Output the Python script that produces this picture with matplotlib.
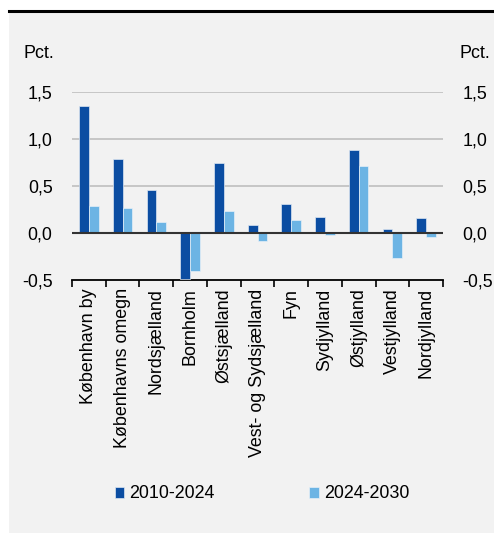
import numpy as np
import matplotlib
matplotlib.use("Agg")
import matplotlib.pyplot as plt

plt.rcParams['font.family'] = ['Liberation Sans', 'DejaVu Sans']

regions = ["København by", "Københavns omegn", "Nordsjælland", "Bornholm",
           "Østsjælland", "Vest- og Sydsjælland", "Fyn", "Sydjylland",
           "Østjylland", "Vestjylland", "Nordjylland"]
v_2010_2024 = [1.35, 0.79, 0.46, -0.49, 0.74, 0.09, 0.31, 0.17, 0.88, 0.04, 0.16]
v_2024_2030 = [0.29, 0.27, 0.12, -0.40, 0.23, -0.08, 0.14, -0.02, 0.71, -0.27, -0.04]
series_names = ["2010-2024", "2024-2030"]
yticks = [-0.5, 0.0, 0.5, 1.0, 1.5]

dark = "#0b4da2"
light = "#6cb4e4"
bg = "#f2f2f2"
fs = 12.9

fig = plt.figure(figsize=(4.94, 5.33), dpi=100)
fig.patch.set_facecolor("white")

# grey panel with black line on top
panel = plt.Rectangle((9 / 494, 0), 1 - 9 / 494, 1 - 11 / 533,
                      transform=fig.transFigure, facecolor=bg, edgecolor="none", zorder=-10)
fig.patches.append(panel)
fig.add_artist(plt.Line2D([9 / 494, 1], [1 - 11 / 533, 1 - 11 / 533],
                          transform=fig.transFigure, color="black", lw=2.2))

ax = fig.add_axes([72 / 494, 1 - 280 / 533, (443 - 72) / 494, (280 - 92) / 533])
ax.set_facecolor(bg)

x = np.arange(len(regions))
w = 0.29
ax.bar(x - w / 2, v_2010_2024, w, color=dark, edgecolor="#dce6f2", linewidth=0.5,
       label=series_names[0], zorder=3)
ax.bar(x + w / 2, v_2024_2030, w, color=light, edgecolor="#e6f0f8", linewidth=0.5,
       label=series_names[1], zorder=3)

ax.set_xlim(-0.5, len(regions) - 0.5)
ax.set_ylim(-0.5, 1.5)
ax.set_yticks(yticks)
ax.set_yticklabels([f"{t:.1f}".replace(".", ",") for t in yticks], fontsize=fs)
ax.tick_params(axis="y", length=0, pad=14, labelright=True, labelleft=True)
ax.tick_params(axis="y", which="major", right=False)
for lbl in ax.get_yticklabels(which="major"):
    pass

for t in [0.5, 1.0, 1.5]:
    ax.axhline(t, color="#c6c6c6", lw=1.4, zorder=1)
ax.axhline(0, color="#333333", lw=1.5, zorder=4)

ax.set_xticks(np.arange(-0.5, len(regions), 1.0))
ax.set_xticklabels([])
ax.set_xticks(x, minor=True)
ax.set_xticklabels(regions, minor=True, rotation=90, fontsize=fs, va="top", ha="center")
ax.tick_params(axis="x", which="major", length=5, width=1.2, color="black", direction="out")
ax.tick_params(axis="x", which="minor", length=0, pad=6)

for s in ["top", "left", "right"]:
    ax.spines[s].set_visible(False)
ax.spines["bottom"].set_color("black")
ax.spines["bottom"].set_linewidth(1.3)

fig.text(23 / 494, 1 - 53 / 533, "Pct.", fontsize=fs, ha="left", va="center")
fig.text(490 / 494, 1 - 53 / 533, "Pct.", fontsize=fs, ha="right", va="center")

handles, labels = ax.get_legend_handles_labels()
fig.legend(handles, labels, loc="center", bbox_to_anchor=(0.53, 1 - 494 / 533),
           ncol=2, frameon=False, fontsize=fs, handlelength=0.55, handleheight=0.55,
           handletextpad=0.25, columnspacing=5.3)

plt.savefig("out.png", dpi=100, facecolor=fig.get_facecolor())
